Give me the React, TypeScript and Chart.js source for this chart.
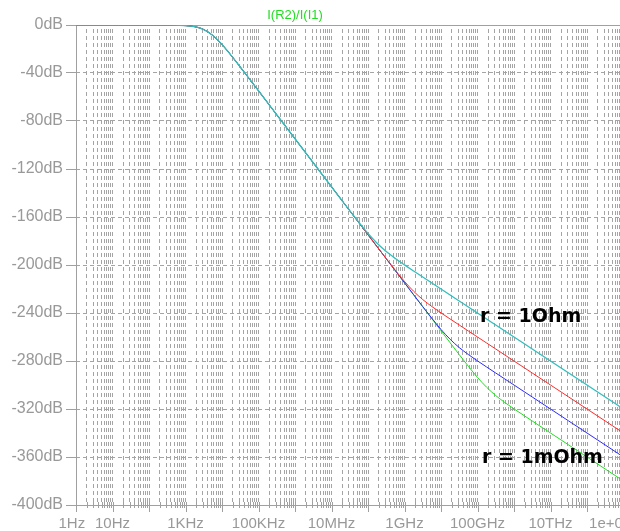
import React, { useEffect, useRef } from 'react';
import { Chart, registerables } from 'chart.js';

Chart.register(...registerables);

// Frequency samples (Hz)
const FREQ_HZ = [
  1e0, 1e1, 1e2, 3.16e2,
  1e3, 1.78e3, 3.16e3, 5.62e3,
  1e4, 1.78e4, 3.16e4, 5.62e4,
  1e5, 3.16e5, 1e6, 3.16e6,
  1e7, 1.78e7, 3.16e7, 5.62e7,
  1e8, 1.78e8, 3.16e8, 5.62e8,
  1e9, 1.78e9, 3.16e9, 5.62e9,
  1e10, 1.78e10, 3.16e10, 5.62e10,
  1e11, 1.78e11, 3.16e11, 5.62e11,
  1e12, 3.16e12, 1e13, 3.16e13,
  1e14, 3.16e14, 1e15, 3.16e15, 1e16,
];

// I(R2)/I(I1) in dB for each stepped r
const DB_CYAN = [
  0, 0, 0, -0.1, -0.5, -1.4, -3.8, -8.8, -16.3, -25.3, -35.0, -44.9, -54.8, -74.8, -94.8, -114.8,
  -134.8, -144.8, -154.7, -164.4, -173.7, -181.9, -188.8, -194.6, -199.9, -205.0, -210.0, -215.0,
  -220.0, -225.0, -230.0, -235.0, -240.0, -245.0, -250.0, -255.0, -260.0, -270.0, -280.0, -290.0,
  -300.0, -310.0, -320.0, -330.0, -340.0,
];
const DB_RED = [
  0, 0, 0, -0.1, -0.5, -1.4, -3.8, -8.8, -16.3, -25.3, -35.0, -44.9, -54.8, -74.8, -94.8, -114.8,
  -134.8, -144.8, -154.8, -164.8, -174.8, -184.8, -194.7, -204.4, -213.7, -221.9, -228.8, -234.6,
  -239.9, -245.0, -250.0, -255.0, -260.0, -265.0, -270.0, -275.0, -280.0, -290.0, -300.0, -310.0,
  -320.0, -330.0, -340.0, -350.0, -360.0,
];
const DB_BLUE = [
  0, 0, 0, -0.1, -0.5, -1.4, -3.8, -8.8, -16.3, -25.3, -35.0, -44.9, -54.8, -74.8, -94.8, -114.8,
  -134.8, -144.8, -154.8, -164.8, -174.8, -184.8, -194.8, -204.8, -214.8, -224.8, -234.7, -244.4,
  -253.7, -261.9, -268.8, -274.6, -279.9, -285.0, -290.0, -295.0, -300.0, -310.0, -320.0, -330.0,
  -340.0, -350.0, -360.0, -370.0, -380.0,
];
const DB_GREEN = [
  0, 0, 0, -0.1, -0.5, -1.4, -3.8, -8.8, -16.3, -25.3, -35.0, -44.9, -54.8, -74.8, -94.8, -114.8,
  -134.8, -144.8, -154.8, -164.8, -174.8, -184.8, -194.8, -204.8, -214.8, -224.8, -234.8, -244.8,
  -254.8, -264.8, -274.7, -284.4, -293.7, -301.9, -308.8, -314.6, -319.9, -330.0, -340.0, -350.0,
  -360.0, -370.0, -380.0, -390.0, -400.0,
];

const SERIES_COLORS = ['#33bdbd', '#ff2a2a', '#2a2aff', '#22dd22'];
const SERIES_WIDTHS = [1.3, 1, 1, 1];
const SERIES_DATA = [DB_CYAN, DB_RED, DB_BLUE, DB_GREEN];

// Axis labels
const X_LABEL_VALUES = [1, 10, 1e3, 1e5, 1e7, 1e9, 1e11, 1e13, 1e15];
const X_LABELS = ['1Hz  ', '10Hz', '1KHz', '100KHz', '10MHz', '1GHz', '100GHz', '10THz', '1e+015Hz'];
const X_MIN = 1;
const X_MAX = 1e16;
const Y_MIN = -400;
const Y_MAX = 0;
const Y_STEP = 40;

const TITLE = 'I(R2)/I(I1)';
const NOTE_TEXTS = ['r = 1Ohm', 'r = 1mOhm'];
const NOTE_FREQ = [1.17e11, 1.32e11];
const NOTE_DB = [-247.5, -365];

const GRID = '#a4a4a4';
const FRAME = '#a0a0a0';
const LABEL = '#999999';
const FONT = '"Liberation Sans", Arial, sans-serif';

const CANVAS_W = 680;
const CANVAS_H = 531;

function isDecade(v: number) {
  const l = Math.log10(v);
  return Math.abs(l - Math.round(l)) < 1e-6;
}

const ltspicePlugin = {
  id: 'ltspice',
  beforeDatasetsDraw(chart: any) {
    const { ctx, chartArea: a, scales } = chart;
    const x = scales.x;
    ctx.save();
    ctx.setLineDash([]);
    ctx.strokeStyle = FRAME;
    ctx.lineWidth = 1;
    ctx.beginPath();
    ctx.moveTo(a.left + 0.5, a.top + 0.5);
    ctx.lineTo(a.right, a.top + 0.5);
    ctx.moveTo(a.left + 0.5, a.top);
    ctx.lineTo(a.left + 0.5, a.bottom + 1);
    ctx.moveTo(a.left, a.bottom + 0.5);
    ctx.lineTo(a.right, a.bottom + 0.5);
    for (const t of x.ticks) {
      const px = Math.round(x.getPixelForValue(t.value)) + 0.5;
      const dec = isDecade(t.value);
      ctx.moveTo(px, a.bottom - 3);
      ctx.lineTo(px, a.bottom + (dec ? 7 : 3));
    }
    ctx.stroke();
    ctx.restore();
  },
  afterDatasetsDraw(chart: any) {
    const { ctx, scales } = chart;
    ctx.save();
    ctx.fillStyle = '#000';
    ctx.font = 'bold 19px "DejaVu Sans", sans-serif';
    ctx.textAlign = 'left';
    ctx.textBaseline = 'alphabetic';
    NOTE_TEXTS.forEach((s, i) => {
      ctx.fillText(s, scales.x.getPixelForValue(NOTE_FREQ[i]), scales.y.getPixelForValue(NOTE_DB[i]));
    });
    ctx.restore();
  },
  afterDraw(chart: any) {
    const { ctx } = chart;
    ctx.save();
    ctx.fillStyle = '#22dd22';
    ctx.font = '13px ' + FONT;
    ctx.textAlign = 'center';
    ctx.textBaseline = 'middle';
    ctx.fillText(TITLE, 295, 15);
    ctx.restore();
  },
};

export default function App() {
  const ref = useRef<HTMLCanvasElement | null>(null);

  useEffect(() => {
    if (!ref.current) return;
    const datasets = SERIES_DATA.map((arr, i) => ({
      data: FREQ_HZ.map((f, j) => ({ x: f, y: arr[j] })),
      borderColor: SERIES_COLORS[i],
      backgroundColor: SERIES_COLORS[i],
      borderWidth: SERIES_WIDTHS[i],
      pointRadius: 0,
      cubicInterpolationMode: 'monotone' as const,
      fill: false,
    }));
    const tickValues: number[] = [];
    for (let k = 0; k < 16; k++) {
      for (let m = 1; m <= 9; m++) tickValues.push(m * Math.pow(10, k));
    }
    tickValues.push(X_MAX);

    const chart = new Chart(ref.current, {
      type: 'line',
      data: { datasets },
      plugins: [ltspicePlugin],
      options: {
        responsive: false,
        animation: false,
        devicePixelRatio: 1,
        layout: { padding: { top: 25, left: 0, right: CANVAS_W - 660, bottom: 0 } },
        plugins: { legend: { display: false }, tooltip: { enabled: false }, title: { display: false } },
        scales: {
          x: {
            type: 'logarithmic',
            min: X_MIN,
            max: X_MAX,
            afterBuildTicks: (scale: any) => {
              scale.ticks = tickValues.map((v) => ({ value: v }));
            },
            afterFit: (scale: any) => {
              scale.height = 26;
            },
            border: { display: false, dash: [4, 3], dashOffset: 3 },
            grid: { color: GRID, lineWidth: 1, drawTicks: false },
            ticks: {
              autoSkip: false,
              maxRotation: 0,
              minRotation: 0,
              padding: 10,
              color: LABEL,
              font: { family: FONT, size: 15 },
              callback: (value: any) => {
                const v = Number(value);
                const idx = X_LABEL_VALUES.findIndex((lv) => Math.abs(Math.log10(v) - Math.log10(lv)) < 1e-6);
                return idx >= 0 ? X_LABELS[idx] : '';
              },
            },
          },
          y: {
            type: 'linear',
            min: Y_MIN,
            max: Y_MAX,
            afterFit: (scale: any) => {
              scale.width = 76;
            },
            border: { display: false, dash: [4, 3], dashOffset: 0 },
            grid: {
              color: (c: any) =>
                c.tick && (c.tick.value === Y_MIN || c.tick.value === Y_MAX) ? 'rgba(0,0,0,0)' : GRID,
              tickColor: FRAME,
              tickLength: 10,
              lineWidth: 1,
            },
            ticks: {
              stepSize: Y_STEP,
              padding: 3,
              color: LABEL,
              font: { family: FONT, size: 16 },
              callback: (value: any) => `${value}dB`,
            },
          },
        },
      },
    });
    return () => chart.destroy();
  }, []);

  return (
    <div
      style={{
        position: 'fixed',
        left: 0,
        top: 0,
        width: 620,
        height: 531,
        overflow: 'hidden',
        background: '#fff',
      }}
    >
      <canvas ref={ref} width={CANVAS_W} height={CANVAS_H} style={{ display: 'block' }} />
    </div>
  );
}
